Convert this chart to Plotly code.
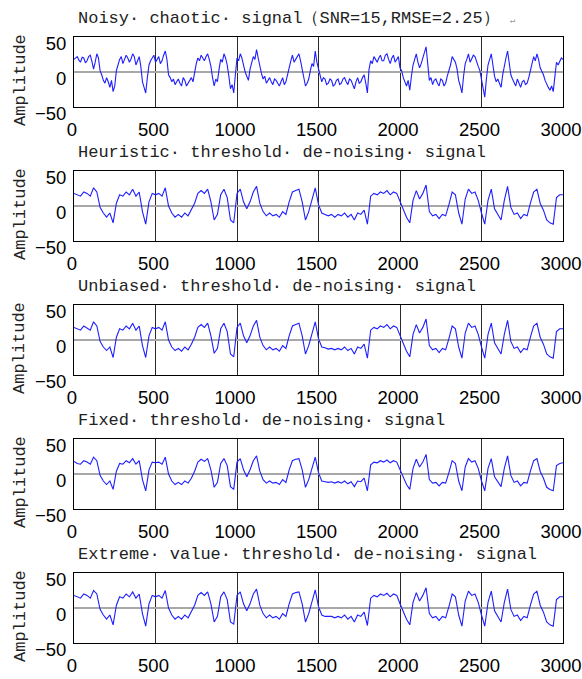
import plotly.graph_objects as go

# ---------------- data ----------------
NOISY_STEP = 10       # samples between the values of the noisy series
DENOISED_STEP = 20    # samples between the values of the de-noised series
X_TICKS = [0, 500, 1000, 1500, 2000, 2500, 3000]
Y_TICKS = [-50, 0, 50]

TITLES = [
    "Noisy· chaotic· signal（SNR=15,RMSE=2.25）",
    "Heuristic· threshold· de-noising· signal",
    "Unbiased· threshold· de-noising· signal",
    "Fixed· threshold· de-noising· signal",
    "Extreme· value· threshold· de-noising· signal",
]
Y_LABEL = "Amplitude"

noisy = [18, 20, 22, 17, 14, 21, 20, 13, 16, 22,
         24, 15, 4, 14, 26, 20, 2, -4, -12, -16,
         -8, -14, -22, -12, -28, -20, 2, 10, 18, 22,
         12, 18, 24, 20, 14, 19, 26, 22, 10, 16,
         22, 8, -14, -22, -30, -8, 10, 16, 20, 24,
         14, 18, 22, 12, 16, 24, 30, 18, -4, -8,
         -14, -10, -18, -14, -10, -16, -20, -8, -12, -20,
         -16, -10, -8, -14, 2, 12, 20, 16, 24, 20,
         16, 22, 26, 18, 8, -8, -20, -10, -14, 4,
         18, 14, 26, 20, 10, -6, -24, -18, -30, -4,
         20, 16, 26, 20, 8, 0, -6, -12, 4, 14,
         22, 18, 32, 20, 6, -2, -10, -6, -16, -12,
         -8, -14, -18, -10, -12, -16, -20, -14, -8, -18,
         -14, -4, 8, 16, 24, 14, 18, 22, 26, 16,
         4, -10, -20, -16, -10, 2, 12, 8, 30, 14,
         4, -6, -14, -8, -10, -18, -16, -10, -12, -20,
         -18, -12, -10, -18, -16, -10, -8, -14, -18, -10,
         -12, -18, -24, -14, -8, -16, -14, -8, -4, -16,
         -30, 4, 16, 12, 22, 18, 14, 20, 24, 16,
         16, 24, 26, 18, 12, 20, 24, 14, 18, 22,
         6, 2, -8, -14, -20, -12, -26, -6, 10, 18,
         26, 14, 6, 12, 20, 26, 36, 12, -12, -8,
         -18, -12, -10, -16, -20, -10, -12, -20, -16, -6,
         2, 10, 22, 18, 14, 4, -12, -20, -30, -6,
         12, 18, 26, 14, 18, 24, 22, 14, 8, 2,
         -12, -20, -36, -10, 10, 18, 26, 10, -6, -14,
         -10, -16, -22, -4, 10, 20, 30, 12, -4, -10,
         -14, -20, -10, -16, -22, -14, -12, -18, -16, -8,
         4, 12, 22, 16, 26, 18, 6, 2, -4, -12,
         -18, -22, -26, -20, -28, -8, 14, 10, 16, 20,
         18]

heuristic = [18, 16, 14, 20, 18, 14, 26, 20, -2, -10, -16, -10, -24, 4, 16, 14, 20, 16, 24, 14,
             20, -8, -26, 6, 18, 16, 18, 14, 26, 0, -10, -16, -12, -16, -10, -14, -6, 4, 18, 22,
             18, 24, 6, -20, -12, 16, 24, 12, -20, -24, 18, 24, 6, -4, 6, 20, 28, 4, -8, -14,
             -10, -14, -12, -16, -8, -12, 6, 20, 22, 24, 6, -20, -8, 8, 26, 2, -10, -12, -14, -12,
             -16, -12, -14, -10, -16, -12, -20, -10, -12, -6, -26, 14, 18, 16, 20, 18, 22, 16, 20, 18,
             6, -6, -16, -24, 8, 22, 10, 18, 30, -8, -14, -12, -18, -12, -14, 2, 20, 16, -10, -26,
             10, 24, 18, 20, 8, -10, -26, 8, 24, -4, -12, -20, 8, 28, -2, -12, -10, -18, -12, -14,
             4, 20, 24, 4, -6, -20, -24, -26, 12, 16, 16]

unbiased = [18, 16, 14, 20, 17, 14, 26, 20, -2, -10, -15, -10, -25, 4, 16, 14, 20, 16, 24, 14,
            20, -8, -25, 6, 18, 16, 18, 14, 26, 0, -10, -15, -12, -16, -10, -14, -6, 4, 18, 22,
            18, 24, 6, -19, -12, 16, 24, 12, -20, -24, 18, 24, 6, -4, 6, 20, 28, 4, -8, -14,
            -10, -14, -12, -16, -8, -12, 6, 20, 22, 24, 6, -20, -8, 8, 26, 2, -10, -11, -13, -12,
            -14, -12, -14, -10, -15, -12, -20, -10, -12, -6, -26, 14, 18, 16, 20, 18, 22, 16, 20, 18,
            6, -6, -16, -24, 8, 22, 10, 18, 30, -8, -14, -12, -18, -12, -14, 2, 20, 16, -10, -26,
            10, 24, 18, 20, 8, -10, -26, 8, 24, -4, -12, -20, 8, 28, -2, -12, -10, -18, -12, -14,
            4, 20, 24, 4, -6, -20, -24, -26, 12, 16, 16]

fixed = [18, 15, 14, 19, 17, 14, 24, 19, -2, -10, -15, -10, -22, 4, 15, 14, 19, 16, 22, 14,
         19, -8, -24, 6, 17, 16, 17, 14, 24, 0, -10, -15, -12, -15, -10, -13, -6, 4, 17, 21,
         18, 22, 6, -19, -12, 15, 22, 12, -18, -22, 17, 22, 6, -4, 6, 19, 26, 4, -8, -13,
         -10, -13, -12, -15, -8, -12, 6, 19, 21, 22, 6, -19, -8, 8, 24, 2, -10, -11, -12, -11,
         -13, -11, -13, -10, -14, -11, -18, -10, -11, -6, -24, 13, 17, 16, 19, 17, 20, 16, 19, 17,
         6, -6, -15, -22, 8, 21, 10, 17, 28, -8, -13, -12, -17, -12, -13, 2, 19, 15, -10, -24,
         10, 22, 17, 19, 8, -10, -24, 8, 22, -4, -11, -18, 8, 26, -2, -12, -10, -17, -12, -13,
         4, 19, 22, 4, -6, -19, -22, -24, 12, 15, 16]

extreme = [18, 16, 14, 20, 18, 14, 25, 20, -2, -10, -16, -10, -24, 4, 16, 14, 20, 16, 23, 14,
           20, -8, -26, 6, 18, 16, 18, 14, 25, 0, -10, -16, -12, -16, -10, -14, -6, 4, 18, 22,
           18, 23, 6, -20, -12, 16, 23, 12, -20, -23, 18, 23, 6, -4, 6, 20, 27, 4, -8, -14,
           -10, -14, -12, -16, -8, -12, 6, 20, 22, 23, 6, -20, -8, 8, 26, 2, -10, -12, -12, -12,
           -14, -12, -14, -10, -16, -12, -20, -10, -12, -6, -25, 14, 18, 16, 20, 18, 21, 16, 20, 18,
           6, -6, -16, -24, 8, 22, 10, 18, 29, -8, -14, -12, -18, -12, -14, 2, 20, 16, -10, -26,
           10, 24, 18, 20, 8, -10, -26, 8, 24, -4, -12, -20, 8, 27, -2, -12, -10, -18, -12, -14,
           4, 20, 24, 4, -6, -20, -24, -26, 12, 16, 16]

SERIES = [(noisy, NOISY_STEP), (heuristic, DENOISED_STEP), (unbiased, DENOISED_STEP),
          (fixed, DENOISED_STEP), (extreme, DENOISED_STEP)]

# ---------------- layout constants ----------------
W, H = 582, 679
LEFT, RIGHT = 74, 563
TOP0, PANEL_H, PITCH = 37, 70, 134
LINE_COLOR = "rgb(30,30,255)"
TICK_FONT = dict(family="Liberation Sans, Arial", size=18.5, color="black")
MONO_FONT = dict(family="Liberation Mono, Courier New, monospace", size=17, color="#222222")

fig = go.Figure()
layout = dict(
    template="none",
    width=W, height=H, margin=dict(l=0, r=0, t=0, b=0, pad=0, autoexpand=False),
    paper_bgcolor="white", plot_bgcolor="white", showlegend=False,
)
annotations = []

for k, (ys, step) in enumerate(SERIES):
    n = "" if k == 0 else str(k + 1)
    xs = [step * i for i in range(len(ys))]
    fig.add_trace(go.Scatter(x=xs, y=ys, mode="lines",
                             line=dict(color=LINE_COLOR, width=1.1),
                             xaxis="x" + n, yaxis="y" + n, hoverinfo="skip"))
    top = TOP0 + PITCH * k
    bot = top + PANEL_H
    layout["xaxis" + n] = dict(
        domain=[LEFT / W, RIGHT / W], anchor="y" + n, range=[0, 3000],
        tickvals=X_TICKS, ticks="", showgrid=True, gridcolor="#2a2a2a", gridwidth=1,
        zeroline=False, showline=True, mirror=True, linecolor="black", linewidth=1,
        tickfont=TICK_FONT, ticklabelstandoff=6, ticklabelshift=-2, automargin=False,
        ticklabeloverflow="allow",
    )
    layout["yaxis" + n] = dict(
        domain=[1 - bot / H, 1 - top / H], anchor="x" + n, range=[-50, 50],
        tickvals=Y_TICKS, ticks="", showgrid=False,
        zeroline=True, zerolinecolor="#a8a8a8", zerolinewidth=1.5,
        showline=True, mirror=True, linecolor="black", linewidth=1,
        tickfont=TICK_FONT, ticklabelshift=7, ticklabelstandoff=3, automargin=False,
        ticklabeloverflow="allow",
    )
    annotations.append(dict(
        text=TITLES[k] + (" <span style='font-size:9px;color:#999'>↵</span>" if k == 0 else ""),
        xref="paper", yref="paper", x=76 / W, y=1 - (top - 19) / H,
        xanchor="left", yanchor="middle", showarrow=False, font=MONO_FONT,
    ))
    annotations.append(dict(
        text=Y_LABEL, textangle=-90,
        xref="paper", yref="paper", x=20 / W, y=1 - (top + 43) / H,
        xanchor="center", yanchor="middle", showarrow=False, font=MONO_FONT,
    ))

layout["annotations"] = annotations
fig.update_layout(**layout)
fig.write_html("out.html")
